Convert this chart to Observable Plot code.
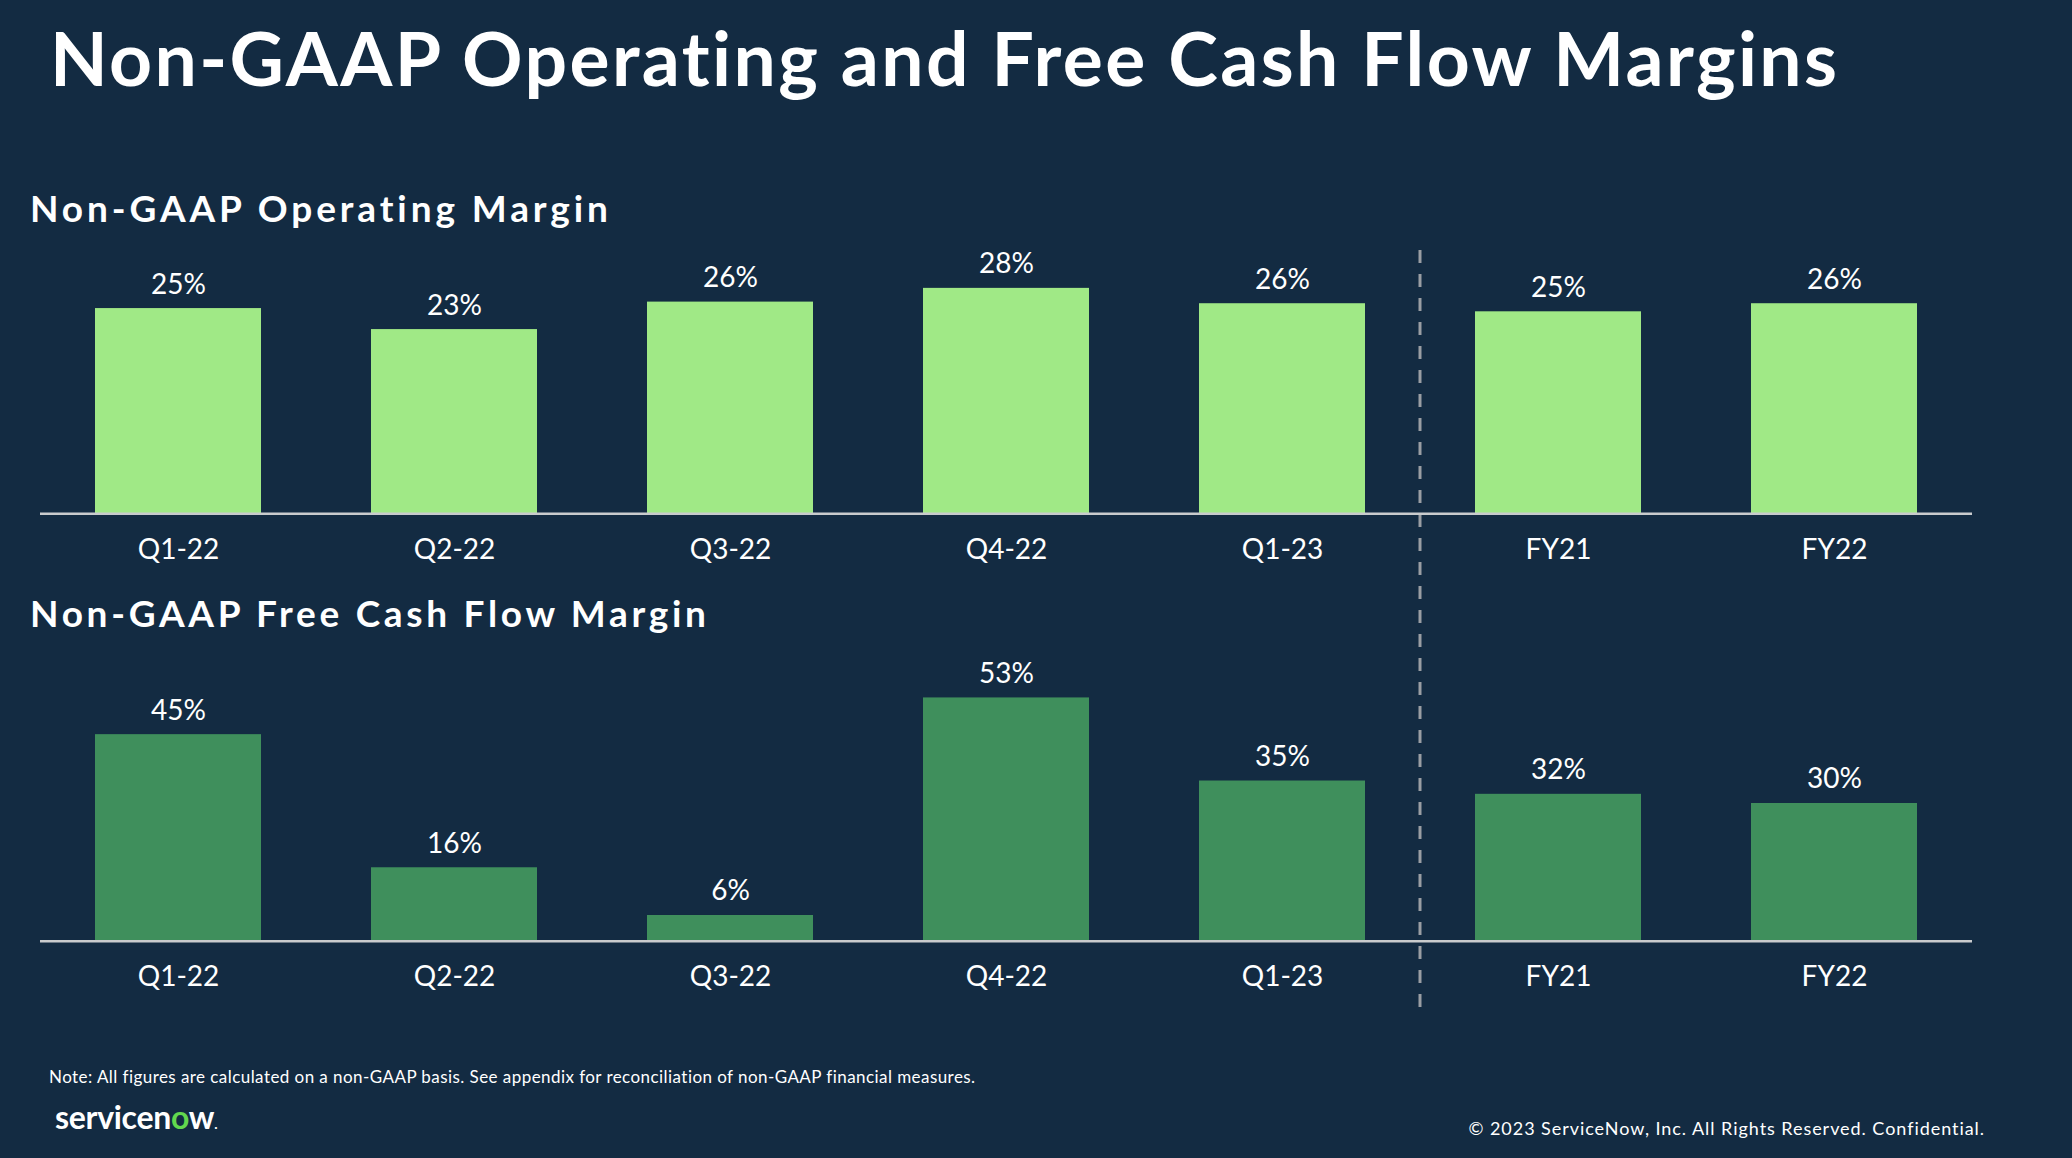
<!DOCTYPE html>
<html>
<head>
<meta charset="utf-8">
<script src="https://cdn.jsdelivr.net/npm/d3@7"></script>
<script src="https://cdn.jsdelivr.net/npm/@observablehq/plot@0.6"></script>
<style>
  html, body { margin: 0; padding: 0; background: #132b42; }
  #page { position: relative; width: 2072px; height: 1158px; background: #132b42; overflow: hidden;
          font-family: Lato, "Open Sans", sans-serif; color: #ffffff; }
  .abs { position: absolute; white-space: nowrap; line-height: 1; }
  #title { left: 50px; top: 20px; font-size: 75px; font-weight: 700; letter-spacing: 2.4px; }
  .sub { left: 30px; font-size: 37px; font-weight: 700; z-index: 2; }
  #sub1 { top: 189px; letter-spacing: 3.9px; }
  #sub2 { top: 594px; letter-spacing: 3.7px; }
  #note { left: 49px; top: 1068px; font-size: 17px; letter-spacing: 0.44px; }
  #logo { left: 55px; top: 1101px; font-size: 32px; font-weight: 700; letter-spacing: -0.3px; }
  #logo .o { color: #62d84e; }
  #copy { right: 87px; top: 1119px; font-size: 18px; letter-spacing: 0.95px; }
  .plot { position: absolute; left: 0; }
  #top { top: 200px; }
  #bottom { top: 580px; }
</style>
</head>
<body>
<div id="page">
  <div id="title" class="abs">Non-GAAP Operating and Free Cash Flow Margins</div>
  <div id="sub1" class="abs sub">Non-GAAP Operating Margin</div>
  <div id="sub2" class="abs sub">Non-GAAP Free Cash Flow Margin</div>
  <div id="top" class="plot"></div>
  <div id="bottom" class="plot"></div>
  <div id="note" class="abs">Note: All figures are calculated on a non-GAAP basis. See appendix for reconciliation of non-GAAP financial measures.</div>
  <div id="logo" class="abs">servicen<span class="o">o</span>w<span style="font-size:14px">.</span></div>
  <div id="copy" class="abs">© 2023 ServiceNow, Inc. All Rights Reserved. Confidential.</div>
</div>
<script>
// ---- data ----
const categories = ["Q1-22", "Q2-22", "Q3-22", "Q4-22", "Q1-23", "FY21", "FY22"];
const operatingMargin = [25.4, 22.8, 26.2, 27.9, 26.0, 25.0, 26.0];
const fcfMargin = [45.0, 16.0, 5.6, 53.0, 34.9, 32.0, 30.0];
const dividerAfter = "Q1-23";
const dividerBefore = "FY21";

// divider line between quarterly and annual groups, positioned with the x scale
function divider(y1, y2, dashOffset) {
  return (index, scales, values, dims) => {
    const sx = scales.x;
    const bw = typeof sx.bandwidth === "function" ? sx.bandwidth() : sx.bandwidth;
    const x = (sx(dividerAfter) + bw + sx(dividerBefore)) / 2;
    return d3.create("svg:line")
      .attr("x1", x).attr("x2", x)
      .attr("y1", y1).attr("y2", y2 == null ? dims.height : y2)
      .attr("stroke", "#9a9ea3")
      .attr("stroke-width", 3)
      .attr("stroke-dasharray", "13 11")
      .attr("stroke-dashoffset", dashOffset)
      .node();
  };
}

function chart(values, color, o) {
  const data = categories.map((c, i) => ({c, v: values[i]}));
  return Plot.plot({
    width: 2072,
    height: o.height,
    marginLeft: 40,
    marginRight: 100,
    marginTop: o.marginTop,
    marginBottom: o.marginBottom,
    style: {background: "transparent", color: "#ffffff", fontFamily: "Lato, 'Open Sans', sans-serif", overflow: "visible"},
    x: {domain: categories, paddingInner: 0.4, paddingOuter: 0.2, axis: null, label: null},
    y: {domain: [0, o.ymax], axis: null},
    marks: [
      Plot.barY(data, {x: "c", y: "v", fill: color}),
      divider(o.divY1, o.divY2, o.dashOffset),
      Plot.ruleY([0], {stroke: "#c9cbcd", strokeWidth: 2.5}),
      Plot.text(data, {x: "c", y: "v", text: d => `${Math.round(d.v)}%`, dy: -24,
        lineAnchor: "middle", fontSize: 28, fill: "#ffffff"}),
      Plot.axisX({tickSize: 0, tickPadding: 25, fontSize: 28, fill: "#ffffff", label: null})
    ]
  });
}

// top: baseline at 313.3px in a 380px svg, 8.08 px per %
document.getElementById("top").append(chart(operatingMargin, "#a0e986", {
  height: 380, marginBottom: 66.7, marginTop: 313.3 - 35 * 8.08, ymax: 35,
  divY1: 50, divY2: null, dashOffset: 0
}));
// bottom: baseline at 360.7px in a 450px svg, 4.59 px per %
document.getElementById("bottom").append(chart(fcfMargin, "#3f8f5c", {
  height: 450, marginBottom: 89.3, marginTop: 360.7 - 60 * 4.59, ymax: 60,
  divY1: 0, divY2: 432, dashOffset: 18
}));
</script>
</body>
</html>
